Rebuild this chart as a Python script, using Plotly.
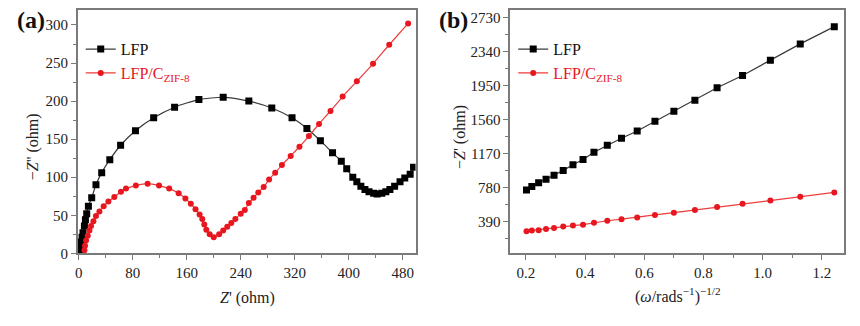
import plotly.graph_objects as go

# ---- Panel (a): Nyquist data ----
lfp_zre = [1, 2, 3.4, 4.9, 6.3, 8.4, 9.9, 11.8, 14.3, 19.2, 25.5, 34, 46, 62, 84, 111, 142, 178, 214,
           252, 286, 316, 338, 358, 376, 389, 397, 406, 412, 418, 424, 430, 437, 442, 449, 455, 461,
           468, 476, 483, 491, 496]
lfp_zim = [2, 8, 15, 21, 27, 36, 44, 52, 62, 73, 90, 106, 123, 142, 161, 178, 192, 202, 205,
           200, 191, 178, 164, 148, 132, 121, 111, 100, 94, 88, 84, 81, 79, 78, 79, 81, 84,
           88, 94, 99, 104, 113]

zif_zre = [8.4, 9.3, 10.8, 13.3, 15.8, 18.2, 21.7, 25.5, 30.6, 36.9, 43.9, 52.7, 62.5, 70, 84.6, 102,
           119, 134, 148, 158, 166, 173, 179, 183, 186, 189, 194, 200, 208, 214, 220, 226, 232, 240,
           246, 252, 259, 266, 274, 282, 291, 301, 314, 327, 341, 356, 373, 391, 412, 436, 460, 488]
zif_zim = [4, 10, 17, 23, 30, 36, 42, 49, 55, 62, 68, 74, 81, 85, 89, 91.5,
           89, 85, 79, 72, 65, 58, 51, 45, 38, 31, 25, 21, 25, 30, 35, 40, 45, 52,
           57, 66, 73, 80, 87, 97, 106, 116, 128, 140, 154, 170, 187, 206, 226, 249, 274, 302]

# ---- Panel (b): Z' vs omega^-1/2 ----
omega_inv_sqrt = [0.202, 0.220, 0.243, 0.268, 0.295, 0.326, 0.359, 0.393, 0.430, 0.475,
                  0.523, 0.576, 0.636, 0.700, 0.771, 0.846, 0.932, 1.026, 1.127, 1.242]
lfp_zre_b = [755, 793, 838, 878, 923, 979, 1043, 1103, 1188, 1267,
             1348, 1431, 1543, 1658, 1785, 1927, 2069, 2244, 2431, 2629]
zif_zre_b = [281, 289, 293, 307, 318, 334, 345, 356, 379, 401,
             419, 438, 468, 494, 524, 558, 595, 632, 677, 726]

left_xticks = [0, 80, 160, 240, 320, 400, 480]
left_yticks = [0, 50, 100, 150, 200, 250, 300]
right_xticks = [0.2, 0.4, 0.6, 0.8, 1.0, 1.2]
right_yticks = [390, 780, 1170, 1560, 1950, 2340, 2730]

W, H = 860, 326
FONT = "Liberation Serif"
BLACK_LINE = "#3a3a3a"
RED = "#e8161e"
RED_LINE = "#ef3b3b"
FRAME = "#7a7a7a"

fig = go.Figure()

fig.add_trace(go.Scatter(x=lfp_zre, y=lfp_zim, mode="lines+markers", name="LFP",
                         line=dict(color=BLACK_LINE, width=1.2, shape="spline", smoothing=0.6),
                         marker=dict(symbol="square", size=7, color="black"),
                         xaxis="x", yaxis="y", legend="legend"))
fig.add_trace(go.Scatter(x=zif_zre, y=zif_zim, mode="lines+markers",
                         name="<span style='color:#e8161e'>LFP/C<sub>ZIF-8</sub></span>",
                         line=dict(color=RED_LINE, width=1.2, shape="spline", smoothing=0.4),
                         marker=dict(symbol="circle", size=6, color=RED),
                         xaxis="x", yaxis="y", legend="legend"))
fig.add_trace(go.Scatter(x=omega_inv_sqrt, y=lfp_zre_b, mode="lines+markers", name="LFP",
                         line=dict(color=BLACK_LINE, width=1.2),
                         marker=dict(symbol="square", size=7, color="black"),
                         xaxis="x2", yaxis="y2", legend="legend2"))
fig.add_trace(go.Scatter(x=omega_inv_sqrt, y=zif_zre_b, mode="lines+markers",
                         name="<span style='color:#e8161e'>LFP/C<sub>ZIF-8</sub></span>",
                         line=dict(color=RED_LINE, width=1.2),
                         marker=dict(symbol="circle", size=6, color=RED),
                         xaxis="x2", yaxis="y2", legend="legend2"))

ydom = [1 - 259.7 / H, 1 - 10 / H]
axis_common = dict(showline=True, linecolor=FRAME, linewidth=1.5, mirror=True,
                   ticks="outside", ticklen=5, tickwidth=1.2, tickcolor=FRAME,
                   showgrid=False, zeroline=False,
                   tickfont=dict(family=FONT, size=15, color="#222"))


def ann(text, x, y, size=15, angle=0, bold=False):
    return dict(text=text, x=x / W, y=1 - y / H, xref="paper", yref="paper",
                xanchor="center", yanchor="middle", textangle=angle, showarrow=False,
                font=dict(family=FONT, size=size, color="#111" if bold else "#222"))


fig.update_layout(
    width=W, height=H, margin=dict(l=0, r=0, t=0, b=0),
    paper_bgcolor="white", plot_bgcolor="white",
    showlegend=True,
    xaxis=dict(domain=[75 / W, 414 / W], range=[-1.5, 499], tickvals=left_xticks,
               minor=dict(ticks="outside", dtick=40, tick0=0, ticklen=3, tickcolor=FRAME),
               anchor="y", **axis_common),
    yaxis=dict(domain=ydom, range=[0, 320], tickvals=left_yticks,
               minor=dict(ticks="outside", dtick=25, tick0=0, ticklen=3, tickcolor=FRAME),
               anchor="x", **axis_common),
    xaxis2=dict(domain=[509 / W, 844 / W], range=[0.147, 1.275], tickvals=right_xticks,
                ticktext=["0.2", "0.4", "0.6", "0.8", "1.0", "1.2"],
                minor=dict(ticks="outside", dtick=0.1, tick0=0, ticklen=3, tickcolor=FRAME),
                anchor="y2", **axis_common),
    yaxis2=dict(domain=ydom, range=[27, 2823], tickvals=right_yticks,
                minor=dict(ticks="outside", dtick=195, tick0=0, ticklen=3, tickcolor=FRAME),
                anchor="x2", **axis_common),
    legend=dict(x=78 / W, y=1 - 33 / H, xanchor="left", yanchor="top",
                bgcolor="rgba(0,0,0,0)", font=dict(family=FONT, size=16, color="#111"),
                tracegroupgap=0, itemwidth=30),
    legend2=dict(x=512 / W, y=1 - 33 / H, xanchor="left", yanchor="top",
                 bgcolor="rgba(0,0,0,0)", font=dict(family=FONT, size=16, color="#111"),
                 tracegroupgap=0, itemwidth=30),
    annotations=[
        ann("<b>(a)</b>", 28, 20, size=24, bold=True),
        ann("<b>(b)</b>", 452, 20, size=24, bold=True),
        ann("−<i>Z</i>'' (ohm)", 30, 150, angle=-90, size=16),
        ann("<i>Z</i>' (ohm)", 245, 305, size=16),
        ann("−<i>Z</i>' (ohm)", 458, 140, angle=-90, size=16),
        ann("(<i>ω</i>/rads<sup>−1</sup>)<sup>−1/2</sup>", 677, 303, size=16),
    ],
)

fig.write_html("out.html")
